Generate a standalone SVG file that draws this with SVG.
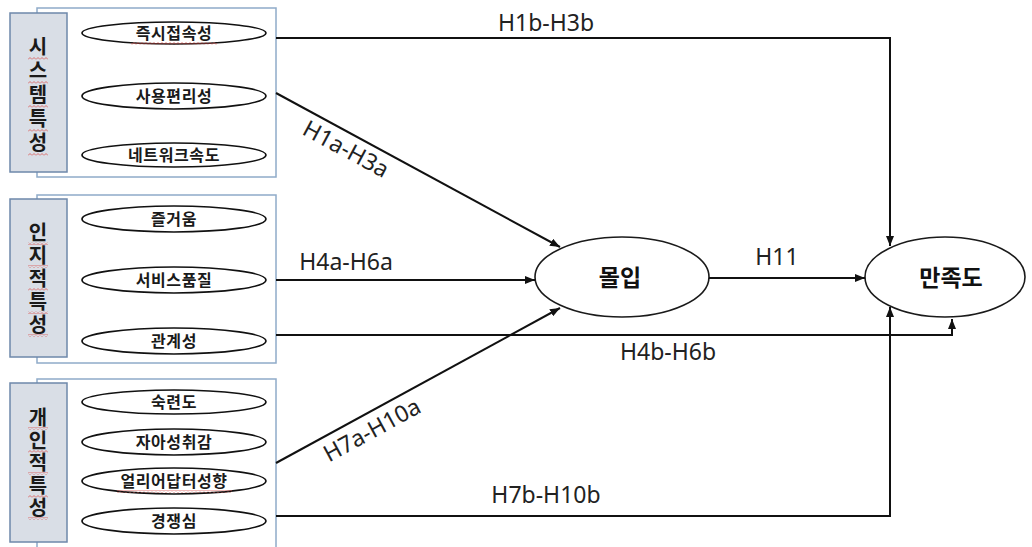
<svg xmlns="http://www.w3.org/2000/svg" width="1032" height="547" viewBox="0 0 1032 547">
  <style>
    .group-box { fill: #ffffff; stroke: #8fabc9; stroke-width: 1.5; }
    .label-box { fill: #d9dee6; stroke: #6e88aa; stroke-width: 1.5; }
    .item { fill: #ffffff; stroke: #111111; stroke-width: 1.7; }
    .item-text { font-family: "Noto Sans CJK KR", "Noto Sans", sans-serif; font-weight: 700; font-size: 16px; letter-spacing: 0.6px; fill: #1a1a1a; text-anchor: middle; }
    .vert-text { font-family: "Noto Sans CJK KR", "Noto Sans", sans-serif; font-weight: 700; font-size: 20px; fill: #1a1a1a; text-anchor: middle; writing-mode: vertical-rl; text-orientation: upright; }
    .main-node { fill: #ffffff; stroke: #1a1a1a; stroke-width: 1.6; }
    .main-text { font-family: "Noto Sans CJK KR", "Noto Sans", sans-serif; font-weight: 700; font-size: 23px; fill: #111111; text-anchor: middle; }
    .link { fill: none; stroke: #111111; stroke-width: 2; marker-end: url(#arrow); }
    .hyp { font-family: "Noto Sans", "Open Sans", sans-serif; font-size: 23px; fill: #222222; text-anchor: middle; }
    .spell { fill: url(#squiggle); }
  </style>
  <defs>
    <marker id="arrow" markerUnits="userSpaceOnUse" markerWidth="10" markerHeight="8" refX="10" refY="4" orient="auto">
      <path d="M0,0 L10,4 L0,8 z" fill="#111111"/>
    </marker>
    <pattern id="squiggle" patternUnits="userSpaceOnUse" width="4" height="3">
      <path d="M0,2.5 L2,0.5 L4,2.5" fill="none" stroke="#d9534f" stroke-width="0.8"/>
    </pattern>
  </defs>

  <rect width="1032" height="547" fill="#ffffff"/>

  <!-- System characteristics -->
  <g id="group-system">
    <rect class="group-box" x="37" y="8" width="239" height="169"/>
    <rect class="label-box" x="10" y="13" width="57" height="159"/>
    <text class="vert-text" x="38" y="96" letter-spacing="4">시스템특성</text>
    <rect class="spell" x="28" y="57" width="20" height="3"/>
    <rect class="spell" x="28" y="81" width="20" height="3"/>
    <rect class="spell" x="28" y="105" width="20" height="3"/>
    <rect class="spell" x="28" y="129" width="20" height="3"/>
    <rect class="spell" x="28" y="153" width="20" height="3"/>
  </g>
  <g id="item-access">
    <ellipse class="item" cx="174" cy="33" rx="92" ry="11"/>
    <text class="item-text" x="174" y="39">즉시접속성</text>
    <rect class="spell" x="131" y="42" width="86" height="3"/>
  </g>
  <g id="item-usability">
    <ellipse class="item" cx="174" cy="96" rx="92" ry="13"/>
    <text class="item-text" x="174" y="102">사용편리성</text>
  </g>
  <g id="item-network">
    <ellipse class="item" cx="174" cy="155" rx="92" ry="12"/>
    <text class="item-text" x="174" y="161">네트워크속도</text>
  </g>

  <!-- Cognitive characteristics -->
  <g id="group-cognitive">
    <rect class="group-box" x="37" y="195" width="239" height="168"/>
    <rect class="label-box" x="10" y="199" width="57" height="158"/>
    <text class="vert-text" x="38" y="280" letter-spacing="3">인지적특성</text>
    <rect class="spell" x="28" y="242" width="20" height="3"/>
    <rect class="spell" x="28" y="265" width="20" height="3"/>
    <rect class="spell" x="28" y="288" width="20" height="3"/>
    <rect class="spell" x="28" y="311" width="20" height="3"/>
    <rect class="spell" x="28" y="334" width="20" height="3"/>
  </g>
  <g id="item-enjoyment">
    <ellipse class="item" cx="174" cy="219" rx="92" ry="13"/>
    <text class="item-text" x="174" y="225">즐거움</text>
  </g>
  <g id="item-service">
    <ellipse class="item" cx="174" cy="280" rx="92" ry="13"/>
    <text class="item-text" x="174" y="286">서비스품질</text>
  </g>
  <g id="item-relation">
    <ellipse class="item" cx="174" cy="341" rx="92" ry="13"/>
    <text class="item-text" x="174" y="347">관계성</text>
  </g>

  <!-- Personal characteristics -->
  <g id="group-personal">
    <rect class="group-box" x="37" y="379" width="239" height="190"/>
    <rect class="label-box" x="10" y="383" width="57" height="159"/>
    <text class="vert-text" x="38" y="464" letter-spacing="2.5">개인적특성</text>
    <rect class="spell" x="28" y="427" width="20" height="3"/>
    <rect class="spell" x="28" y="450" width="20" height="3"/>
    <rect class="spell" x="28" y="472" width="20" height="3"/>
    <rect class="spell" x="28" y="495" width="20" height="3"/>
    <rect class="spell" x="28" y="517" width="20" height="3"/>
  </g>
  <g id="item-skill">
    <ellipse class="item" cx="174" cy="402" rx="92" ry="12"/>
    <text class="item-text" x="174" y="408">숙련도</text>
  </g>
  <g id="item-achievement">
    <ellipse class="item" cx="174" cy="442" rx="92" ry="13"/>
    <text class="item-text" x="174" y="448">자아성취감</text>
  </g>
  <g id="item-early-adopter">
    <ellipse class="item" cx="174" cy="481" rx="92" ry="13"/>
    <text class="item-text" x="174" y="487">얼리어답터성향</text>
    <rect class="spell" x="117" y="490" width="115" height="3"/>
  </g>
  <g id="item-competition">
    <ellipse class="item" cx="174" cy="521" rx="92" ry="13"/>
    <text class="item-text" x="174" y="527">경쟁심</text>
  </g>

  <!-- Outcome nodes -->
  <g id="node-flow">
    <ellipse class="main-node" cx="622" cy="277" rx="87" ry="40"/>
    <text class="main-text" x="620" y="286">몰입</text>
  </g>
  <g id="node-satisfaction">
    <ellipse class="main-node" cx="945" cy="277" rx="80" ry="40"/>
    <text class="main-text" x="951" y="286">만족도</text>
  </g>

  <!-- Hypothesis paths -->
  <g id="connectors">
    <path class="link" d="M276,38 H890 V246"/>
    <path class="link" d="M276,93 L560,247"/>
    <path class="link" d="M276,280 H535"/>
    <path class="link" d="M276,463 L560,308"/>
    <path class="link" d="M276,335 H952 V319"/>
    <path class="link" d="M276,516 H890 V307"/>
    <path class="link" d="M709,278 H865"/>

    <text class="hyp" x="546" y="31">H1b-H3b</text>
    <text class="hyp" x="346" y="157" transform="rotate(28.4 346 149)">H1a-H3a</text>
    <text class="hyp" x="346" y="270">H4a-H6a</text>
    <text class="hyp" x="777" y="265">H11</text>
    <text class="hyp" x="668" y="360">H4b-H6b</text>
    <text class="hyp" x="372" y="438" transform="rotate(-28.6 372 430)">H7a-H10a</text>
    <text class="hyp" x="546" y="503">H7b-H10b</text>
  </g>
</svg>
